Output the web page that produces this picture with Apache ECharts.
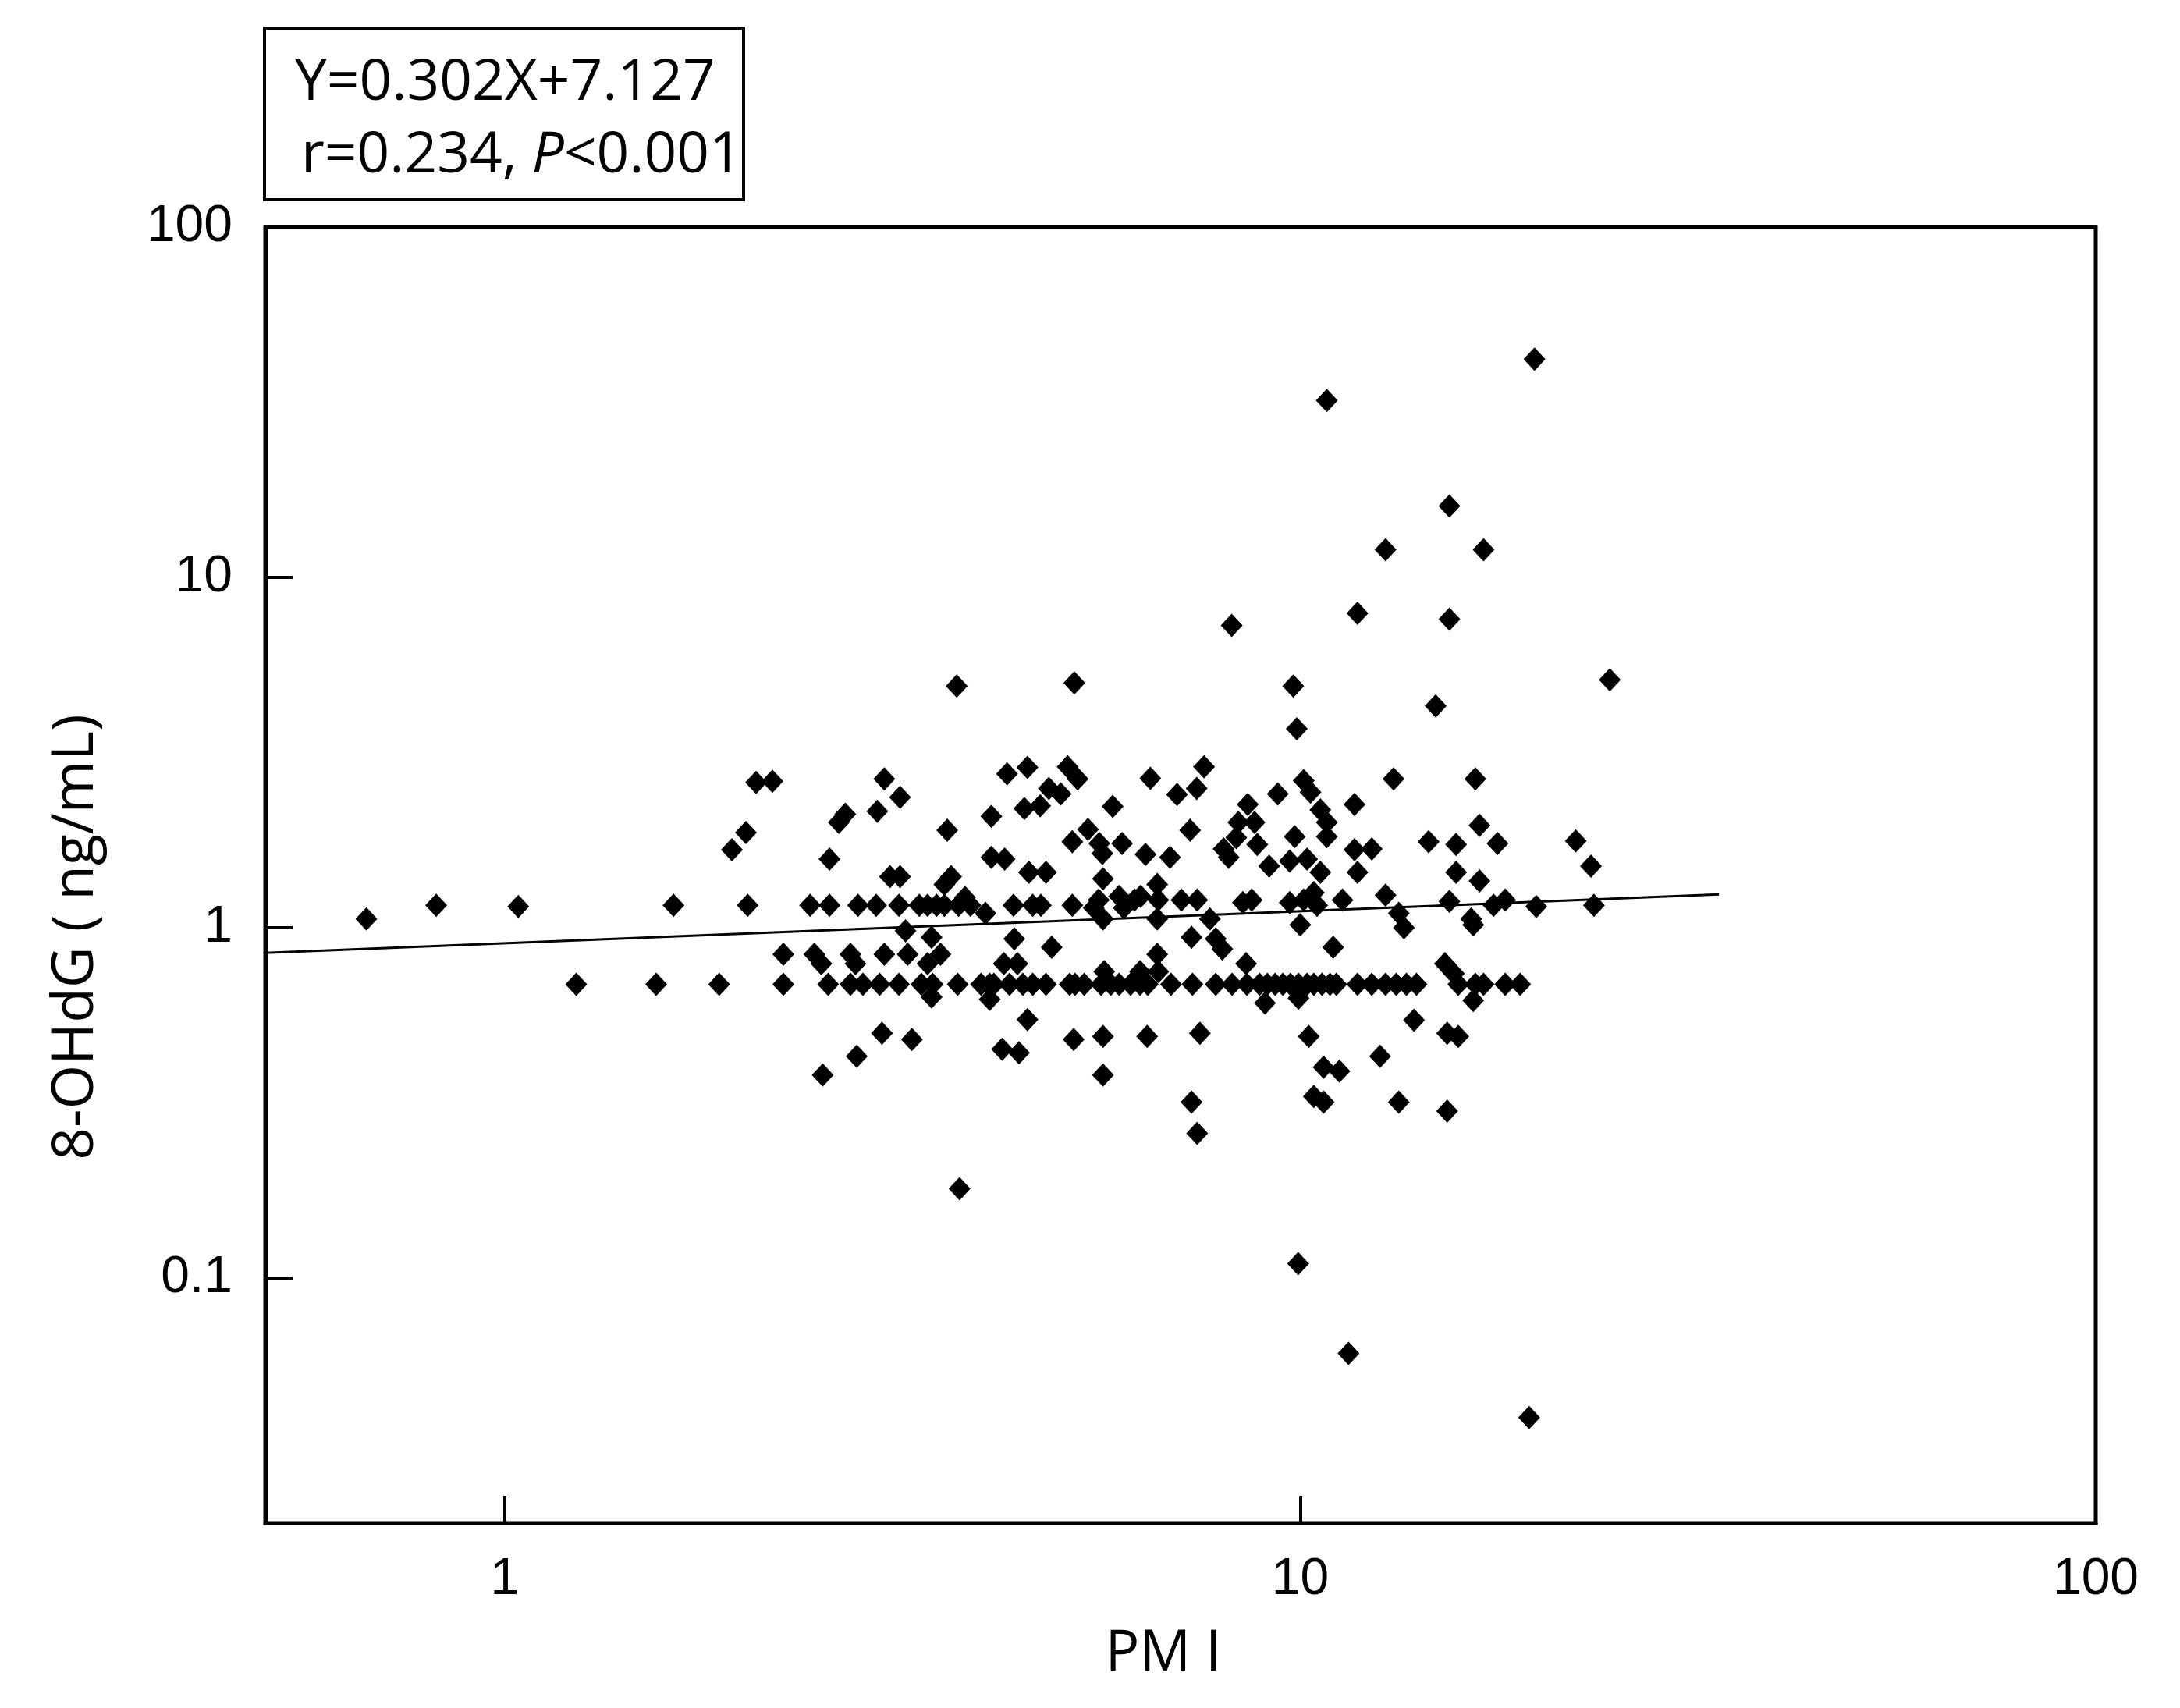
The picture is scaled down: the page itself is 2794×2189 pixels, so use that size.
<!DOCTYPE html>
<html>
<head>
<meta charset="utf-8">
<script src="https://cdn.jsdelivr.net/npm/echarts@6/dist/echarts.min.js"></script>
<style>
  html, body { margin: 0; padding: 0; background: #fff; }
  #chart { width: 2794px; height: 2189px; }
</style>
</head>
<body>
<div id="chart"></div>
<script>
// PM I (x) vs 8-OHdG ng/mL (y), both log scaled
const sparseLeft = [[0.67,1.06],[0.82,1.16],[1.04,1.15],[1.23,0.69],[1.55,0.69],[1.63,1.16],[1.86,0.69],
  [1.93,1.67],[2.01,1.87],[2.02,1.16],[2.07,2.6],[2.17,2.62],[2.24,0.84],[2.24,0.69]];

const clusterLeft = [
  [3.0,2.66],[3.14,2.36],[2.94,2.15],[2.68,2.11],[2.63,2.0],[3.6,1.9],[2.56,1.57],[3.05,1.4],[3.14,1.4],[3.64,1.4],[3.57,1.33],
  [2.42,1.16],[2.56,1.16],[2.78,1.16],[2.93,1.16],[3.13,1.16],[3.32,1.16],[3.40,1.16],[3.49,1.16],[3.57,1.16],[3.72,1.16],
  [3.85,1.16],[4.02,1.1],[4.36,1.16],[4.61,1.16],[4.72,1.16],[5.17,1.16],[3.79,1.22],
  [4.28,2.75],[4.54,2.87],[5.1,2.88],[5.25,2.66],[4.83,2.5],[5.0,2.41],[4.09,2.08],[4.5,2.19],[4.71,2.23],[5.17,1.76],
  [4.09,1.59],[4.25,1.57],[4.56,1.44],[4.79,1.44],
  [3.19,0.98],[3.44,0.94],[4.37,0.93],[4.87,0.88],
  [2.45,0.84],[2.72,0.84],[3.0,0.84],[3.21,0.84],[3.53,0.84],
  [2.5,0.79],[2.76,0.79],[3.4,0.79],[4.24,0.79],[4.41,0.79],
  [2.55,0.69],[2.72,0.69],[2.82,0.69],[2.96,0.69],[3.13,0.69],[3.34,0.69],[3.45,0.69],[3.71,0.69],[3.97,0.69],[4.07,0.69],
  [4.12,0.69],[4.31,0.69],[4.48,0.69],[4.61,0.69],[4.79,0.69],[5.13,0.69],
  [3.44,0.635],[4.07,0.625],[4.54,0.547],[2.98,0.5],[3.25,0.48],[2.77,0.43],[2.51,0.38],[4.22,0.45],[4.43,0.44],[5.19,0.48]
];

const clusterMid = [
  [7.57,2.88],[6.48,2.67],[7.0,2.4],[7.41,2.5],[10.1,2.63],[10.3,2.44],[9.37,2.41],[11.7,2.25],[5.81,2.22],[8.59,2.25],
  [10.6,2.17],[10.8,2.0],[10.8,1.82],[8.36,2.0],[8.76,2.0],[5.41,1.91],[7.27,1.9],[5.59,1.74],[5.97,1.74],[5.64,1.63],
  [6.39,1.62],[6.86,1.59],[8.01,1.68],[8.13,1.59],[8.31,1.81],[8.83,1.73],[9.84,1.82],[9.14,1.5],[9.7,1.55],[10.2,1.57],
  [10.6,1.44],[11.7,1.67],[12.3,1.68],[11.8,1.44],[5.65,1.38],[6.61,1.33],
  [5.58,1.2],[5.5,1.14],[5.92,1.23],[6.0,1.14],[6.19,1.2],[6.3,1.23],[6.63,1.2],[7.09,1.2],[7.42,1.2],[8.47,1.18],
  [8.69,1.2],[9.7,1.18],[10.1,1.2],[10.5,1.16],[11.3,1.2],[10.4,1.26],
  [5.65,1.06],[6.61,1.06],[7.7,1.06],[10.0,1.02],
  [7.3,0.94],[7.83,0.93],[7.98,0.87],[11.0,0.88],[6.61,0.84],[8.55,0.79],[5.67,0.75],[6.29,0.75],[6.63,0.75],
  [5.21,0.69],[5.35,0.69],[5.62,0.69],[5.78,0.69],[5.92,0.69],[6.12,0.69],[6.29,0.69],[6.43,0.69],[6.88,0.69],[7.32,0.69],
  [7.83,0.69],[8.21,0.69],[8.57,0.69],[8.89,0.69],[9.09,0.69],[9.30,0.69],[9.51,0.69],[9.72,0.69],[9.95,0.69],[10.2,0.69],
  [10.4,0.69],[10.65,0.69],[10.9,0.69],[11.1,0.69],[11.8,0.69],[12.3,0.69],
  [9.03,0.61],[9.95,0.63],[5.65,0.49],[6.42,0.49],[7.48,0.5],[10.25,0.49],[5.65,0.38],[10.7,0.4],[11.2,0.39],[12.6,0.43],
  [7.3,0.318],[10.4,0.33],[10.7,0.318],[7.42,0.259]
];

const clusterRight = [
  [13.1,2.66],[16.6,2.66],[16.8,1.96],[14.5,1.76],[15.7,1.73],[17.7,1.74],[22.2,1.77],[23.2,1.5],[15.7,1.44],[16.8,1.36],
  [12.8,1.24],[15.4,1.19],[17.5,1.16],[18.1,1.2],[19.8,1.15],[23.4,1.16],[13.3,1.1],[13.5,1.0],[16.4,1.06],[16.5,1.02],
  [15.2,0.79],[15.6,0.74],
  [12.8,0.69],[13.2,0.69],[13.6,0.69],[14.0,0.69],[15.8,0.69],[16.6,0.69],[17.0,0.69],[18.1,0.69],[18.9,0.69],
  [16.5,0.62],[13.9,0.545],[15.3,0.5],[15.8,0.49],[13.3,0.318],[15.3,0.30]
];

const highOutliers = [[19.7,42],[10.8,32],[15.4,16],[12.8,12],[17.0,12],[11.8,7.9],[15.4,7.6],[8.2,7.3],
  [3.7,4.9],[5.2,5.0],[9.8,4.9],[14.8,4.3],[24.5,5.1],[9.9,3.7]];
const lowOutliers = [[3.73,0.18],[9.94,0.11],[11.5,0.061],[19.4,0.04]];

// regression line end points
const fitLine = [[0.5,0.848],[33.6,1.245]];

const xTicks = [1, 10, 100];
const yTicks = [0.1, 1, 10, 100];

const allPoints = sparseLeft.concat(clusterLeft, clusterMid, clusterRight, highOutliers, lowOutliers);

const chart = echarts.init(document.getElementById('chart'));
const txtFont = '"Open Sans", "Noto Sans", sans-serif';
const tickFont = '"Liberation Sans", Arial, sans-serif';

chart.setOption({
  animation: false,
  backgroundColor: '#fff',
  grid: {
    left: 340, top: 291, right: 108, bottom: 237,
    containLabel: false,
    outerBoundsMode: 'none',
    show: true,
    borderColor: '#000',
    borderWidth: 5
  },
  xAxis: {
    type: 'log',
    logBase: 10,
    min: 0.5,
    max: 100,
    axisLine: { show: true, lineStyle: { color: '#000', width: 5 } },
    axisTick: { show: true, inside: true, length: 35, customValues: xTicks, lineStyle: { color: '#000', width: 4 } },
    axisLabel: {
      customValues: xTicks, margin: 40, color: '#000', fontSize: 66, fontFamily: tickFont,
      formatter: function (v) { return String(+Number(v).toPrecision(3)); }
    },
    splitLine: { show: false },
    minorTick: { show: false }
  },
  yAxis: {
    type: 'log',
    logBase: 10,
    min: 0.02,
    max: 100,
    axisLine: { show: true, lineStyle: { color: '#000', width: 5 } },
    axisTick: { show: true, inside: true, length: 35, customValues: yTicks, lineStyle: { color: '#000', width: 4 } },
    axisLabel: {
      customValues: yTicks, margin: 42, color: '#000', fontSize: 66, fontFamily: tickFont,
      formatter: function (v) { return String(+Number(v).toPrecision(3)); }
    },
    splitLine: { show: false }
  },
  graphic: [
    {
      type: 'rect',
      shape: { x: 339, y: 36, width: 614, height: 220 },
      style: { fill: 'none', stroke: '#000', lineWidth: 4 }
    },
    {
      type: 'text',
      x: 378, y: 107,
      style: { text: 'Y=0.302X+7.127', font: '73px ' + txtFont, fill: '#000', align: 'left', verticalAlign: 'middle' }
    },
    {
      type: 'text',
      x: 386, y: 200,
      style: {
        text: '{a|r=0.234, }{i|P}{a|<0.001}',
        align: 'left', verticalAlign: 'middle',
        rich: {
          a: { fontSize: 73, fontFamily: txtFont, fill: '#000' },
          i: { fontSize: 73, fontFamily: txtFont, fontStyle: 'italic', fill: '#000' }
        }
      }
    },
    {
      type: 'text',
      x: 98, y: 1201,
      rotation: Math.PI / 2,
      style: { text: '8-OHdG ( ng/mL)', font: '73px ' + txtFont, fill: '#000', align: 'center', verticalAlign: 'middle' }
    },
    {
      type: 'text',
      x: 1491, y: 2120,
      style: { text: 'PM I', font: '73px ' + txtFont, fill: '#000', align: 'center', verticalAlign: 'middle' }
    }
  ],
  series: [
    {
      type: 'scatter',
      data: allPoints,
      symbol: 'diamond',
      symbolSize: [28, 30],
      itemStyle: { color: '#000', opacity: 1 },
      z: 3
    },
    {
      type: 'line',
      data: fitLine,
      showSymbol: false,
      symbol: 'none',
      lineStyle: { color: '#000', width: 3 },
      z: 2
    }
  ]
});
</script>
</body>
</html>
